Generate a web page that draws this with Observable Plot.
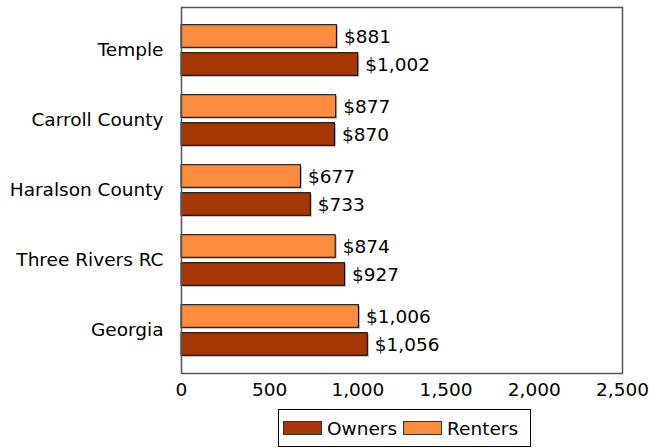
<!DOCTYPE html>
<html>
<head>
<meta charset="utf-8">
<script src="https://cdn.jsdelivr.net/npm/d3@7"></script>
<script src="https://cdn.jsdelivr.net/npm/@observablehq/plot@0.6"></script>
<style>
  body { margin: 0; background: #fff; font-family: "DejaVu Sans", sans-serif; }
  #legend {
    margin-left: 278px; margin-top: 9px;
    display: inline-flex; align-items: center;
    border: 1px solid #000; height: 36px; padding: 0 12px 0 4px;
    font-size: 18.5px; color: #000; box-sizing: content-box;
  }
  .sw { width: 37px; height: 12px; border: 1px solid #333; margin-right: 5px; margin-left: 6px; }
  .sw.first { margin-left: 0; }
</style>
</head>
<body>
<div id="chart"></div>
<script>
const regions = ["Temple", "Carroll County", "Haralson County", "Three Rivers RC", "Georgia"];
const owners = [1002, 870, 733, 927, 1056];
const renters = [881, 877, 677, 874, 1006];
const xTicks = [0, 500, 1000, 1500, 2000, 2500];
const series = ["Owners", "Renters"];
const colors = ["#a63603", "#fd8d3c"];

const ownerData = regions.map((r, i) => ({region: r, value: owners[i]}));
const renterData = regions.map((r, i) => ({region: r, value: renters[i]}));
const fmt = d3.format(",");
const barOpts = {insetTop: 23.7, insetBottom: 23.7};
const FS = 18.5;

const chart = Plot.plot({
  width: 649, height: 400,
  marginTop: 7, marginBottom: 27, marginLeft: 181, marginRight: 27,
  style: {fontFamily: "DejaVu Sans", fontSize: FS + "px", color: "#000", background: "#fff"},
  x: {domain: [0, 2500], label: null},
  y: {domain: regions, padding: 0, inset: 7, label: null},
  marks: [
    Plot.axisX({ticks: xTicks, tickFormat: fmt, tickSize: 0, tickPadding: 9, label: null, fontSize: FS}),
    Plot.axisY({tickSize: 0, tickPadding: 18, label: null, fontSize: FS}),
    // shadows
    Plot.barX(renterData, {x: "value", y: "region", fill: "#b8b8b8", ...barOpts, dy: -14 + 1.5, dx: 1.5}),
    Plot.barX(ownerData, {x: "value", y: "region", fill: "#b8b8b8", ...barOpts, dy: 14 + 1.5, dx: 1.5}),
    Plot.barX(renterData, {x: "value", y: "region", fill: colors[1], stroke: "#000", strokeWidth: 1, ...barOpts, dy: -14}),
    Plot.barX(ownerData, {x: "value", y: "region", fill: colors[0], stroke: "#000", strokeWidth: 1, ...barOpts, dy: 14}),
    Plot.text(renterData, {x: "value", y: "region", text: d => "$" + fmt(d.value), textAnchor: "start", dx: 7, dy: -13, fontSize: FS, fill: "#000"}),
    Plot.text(ownerData, {x: "value", y: "region", text: d => "$" + fmt(d.value), textAnchor: "start", dx: 7, dy: 15, fontSize: FS, fill: "#000"}),
    Plot.frame({stroke: "#555", strokeWidth: 1.5})
  ]
});
document.getElementById("chart").appendChild(chart);

const legend = document.createElement("div");
legend.id = "legend";
series.forEach((s, i) => {
  const sw = document.createElement("span");
  sw.className = i === 0 ? "sw first" : "sw";
  sw.style.background = colors[i];
  const t = document.createElement("span");
  t.textContent = s;
  legend.appendChild(sw);
  legend.appendChild(t);
});
document.body.appendChild(legend);
</script>
</body>
</html>
